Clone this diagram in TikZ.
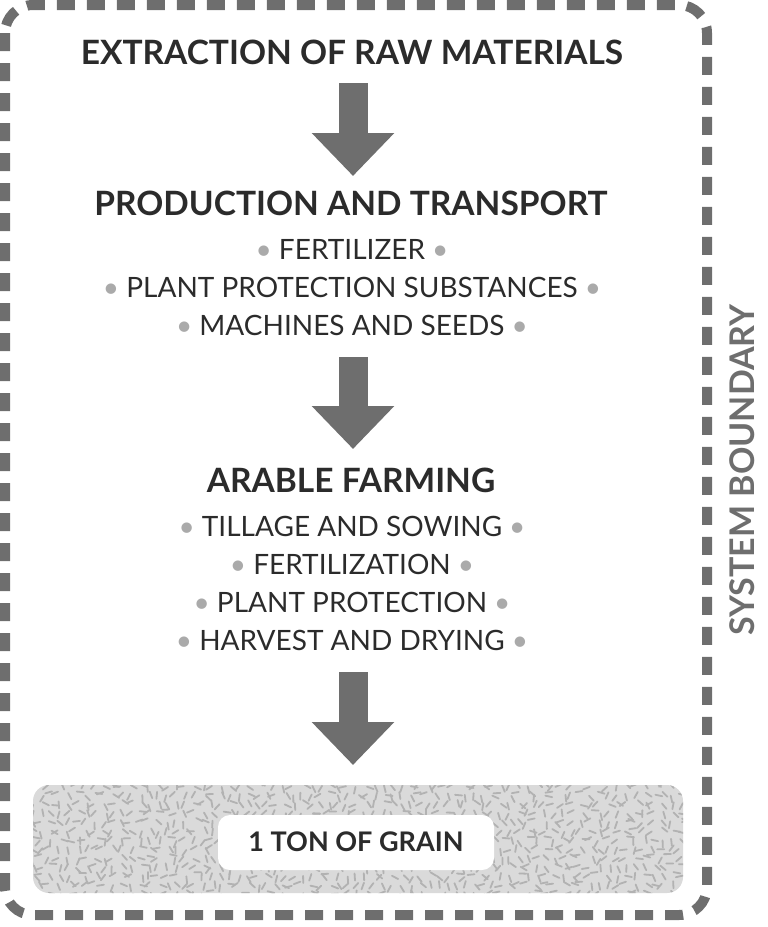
\documentclass[tikz,border=0pt]{standalone}
\usepackage{fontspec}
\setmainfont{Lato}
\usetikzlibrary{arrows.meta}
\definecolor{ink}{HTML}{2B2B2B}
\definecolor{framegray}{HTML}{6E6E6E}
\definecolor{dotgray}{HTML}{AAAAAA}
\definecolor{grainbg}{HTML}{DADADA}
\definecolor{grainfg}{HTML}{B2B2B2}
\newcommand{\bul}{\textcolor{dotgray}{\textbullet}}
\tikzset{
  title/.style={text=ink,font=\fontsize{33.5}{40}\selectfont\bfseries},
  itemlist/.style={text=ink,font=\fontsize{28}{38}\selectfont,align=center},
  bigarrow/.style={framegray,line width=29pt,-{Triangle[width=80pt,length=43pt]}},
  grainline/.style={grainfg,line width=1.8pt,line cap=round}
}
\begin{document}
\begin{tikzpicture}[x=1pt,y=-1pt]
      \useasboundingbox (0,0) rectangle (768,927) ;
      % system boundary
      \draw[framegray,line width=10pt,dash pattern=on 18pt off 12pt,rounded corners=28pt] %
      (5,5) rectangle (707,915) ;
      \node[rotate=90,text=framegray,font=\fontsize{34}{40}\selectfont\bfseries] %
      (boundary) at (742,470) {SYSTEM BOUNDARY} ;
      % steps
      \node[title] (extract) at (352,52) {EXTRACTION OF RAW MATERIALS} ;
      \node[title] (prod) at (351,203) {PRODUCTION AND TRANSPORT} ;
      \node[itemlist,anchor=north] (prodlist) at (352,236) %
      {\bul{} FERTILIZER \bul\\ \bul{} PLANT PROTECTION SUBSTANCES \bul\\ \bul{} MACHINES AND SEEDS \bul} ;
      \node[title] (farm) at (351,480) {ARABLE FARMING} ;
      \node[itemlist,anchor=north] (farmlist) at (352,513) %
      {\bul{} TILLAGE AND SOWING \bul\\ \bul{} FERTILIZATION \bul\\ \bul{} PLANT PROTECTION \bul\\ \bul{} HARVEST AND DRYING \bul} ;
      % grain field
      \fill[grainbg,rounded corners=16pt] (33,785) rectangle (683,893) ;
      \begin{scope}
        \clip[rounded corners=16pt] (33,785) rectangle (683,893) ;
        \pgfmathsetseed{7}
        \foreach \i in {0,...,73} {
          \foreach \j in {0,...,12} {
            \pgfmathsetmacro{\px}{30+\i*9+rnd*5}
            \pgfmathsetmacro{\py}{782+\j*9+rnd*5}
            \pgfmathsetmacro{\ang}{rnd*180}
            \draw[grainline] (\px,\py) -- ++(\ang:7) ;
          }
        }
      \end{scope}
      \fill[white,rounded corners=12pt] (218,815) rectangle (494,870) ;
      \node[title,font=\fontsize{27}{32}\selectfont\bfseries] (grain) at (356,842) {1 TON OF GRAIN} ;
      % arrows
      \coordinate (a1s) at (353,83) ;
      \coordinate (a1e) at (353,176) ;
      \coordinate (a2s) at (353,357) ;
      \coordinate (a2e) at (353,449) ;
      \coordinate (a3s) at (353,672) ;
      \coordinate (a3e) at (353,765) ;
      \draw[bigarrow] (a1s) -- (a1e) ;
      \draw[bigarrow] (a2s) -- (a2e) ;
      \draw[bigarrow] (a3s) -- (a3e) ;
\end{tikzpicture}
\end{document}
